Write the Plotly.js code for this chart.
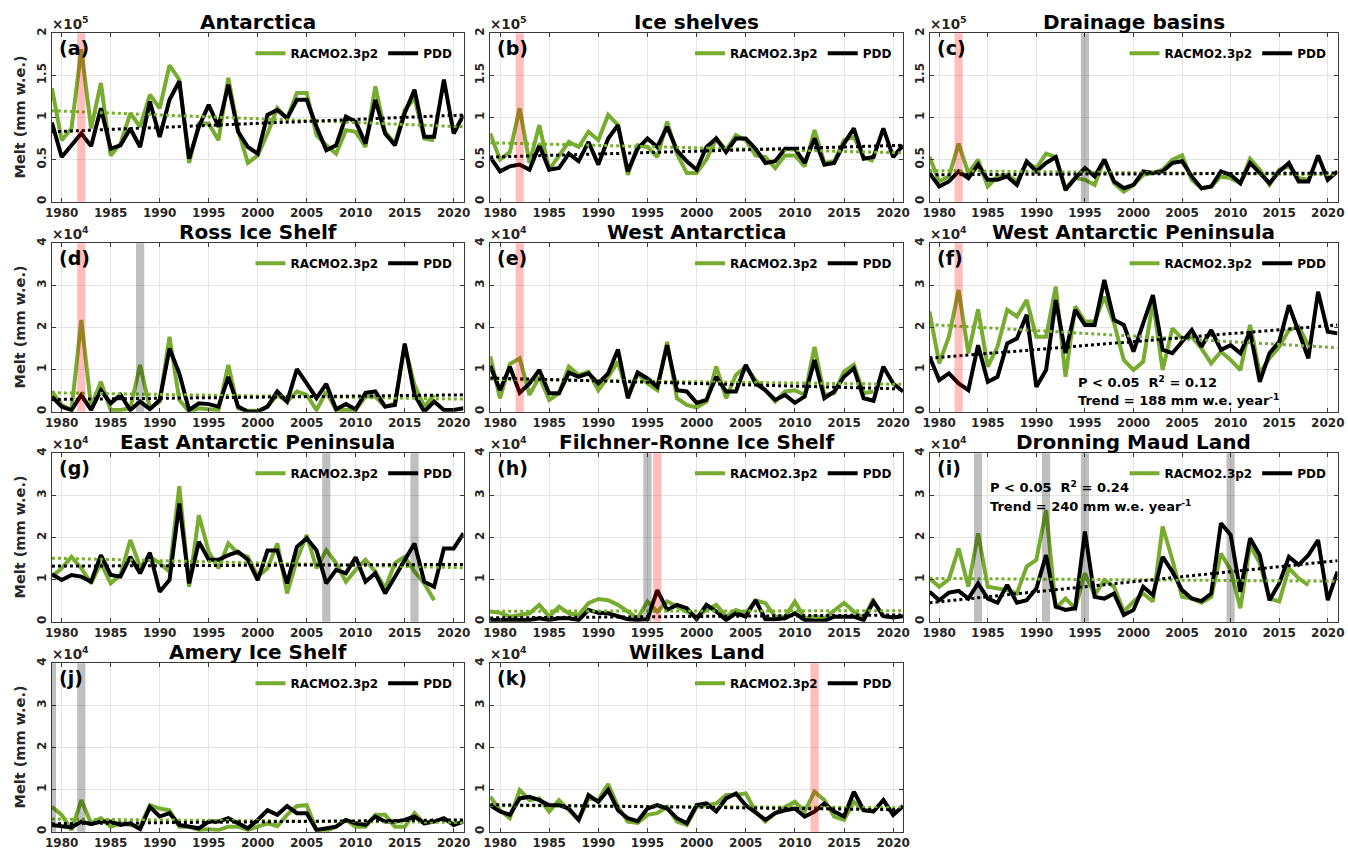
<!DOCTYPE html>
<html><head><meta charset="utf-8">
<script src="https://cdn.plot.ly/plotly-3.0.1.min.js"></script>
<style>html,body{margin:0;padding:0;background:#fff}#chart{width:1348px;height:851px}</style>
</head><body><div id="chart"></div>
<script>
// ---------- data (values in units of the panel's exponent: x10^5 for row 1, x10^4 otherwise) ----------
const yearsRACMO = [1979,1980,1981,1982,1983,1984,1985,1986,1987,1988,1989,1990,1991,1992,1993,1994,1995,1996,1997,1998,1999,2000,2001,2002,2003,2004,2005,2006,2007,2008,2009,2010,2011,2012,2013,2014,2015,2016,2017,2018];
const yearsPDD = [1979,1980,1981,1982,1983,1984,1985,1986,1987,1988,1989,1990,1991,1992,1993,1994,1995,1996,1997,1998,1999,2000,2001,2002,2003,2004,2005,2006,2007,2008,2009,2010,2011,2012,2013,2014,2015,2016,2017,2018,2019,2020,2021];
const trendYears = [1979, 2021];

const panelTitles = ["Antarctica","Ice shelves","Drainage basins","Ross Ice Shelf","West Antarctica","West Antarctic Peninsula","East Antarctic Peninsula","Filchner-Ronne Ice Shelf","Dronning Maud Land","Amery Ice Shelf","Wilkes Land"];
const panelLetters = ["(a)","(b)","(c)","(d)","(e)","(f)","(g)","(h)","(i)","(j)","(k)"];
const panelExponents = [5,5,5,4,4,4,4,4,4,4,4];
const panelYMax = [2,2,2,4,4,4,4,4,4,4,4];
const panelYStep = [0.5,0.5,0.5,1,1,1,1,1,1,1,1];
const seriesNames = ["RACMO2.3p2","PDD"];

const antarctica_racmo = [1.35,0.73,0.87,1.81,0.87,1.41,0.55,0.69,1.05,0.89,1.27,1.11,1.62,1.45,0.46,0.93,0.93,0.73,1.47,0.85,0.46,0.55,0.81,1.11,0.99,1.29,1.29,0.79,0.67,0.57,0.85,0.83,0.65,1.37,0.83,0.69,1.09,1.23,0.75,0.73];
const antarctica_pdd = [0.94,0.53,0.67,0.81,0.66,1.11,0.63,0.67,0.87,0.65,1.19,0.77,1.21,1.43,0.51,0.89,1.15,0.89,1.39,0.83,0.65,0.57,1.03,1.09,0.99,1.21,1.21,0.89,0.61,0.67,1.01,0.95,0.69,1.21,0.81,0.67,1.05,1.33,0.77,0.77,1.45,0.81,1.03];
const iceshelves_racmo = [0.81,0.50,0.59,1.11,0.46,0.91,0.38,0.55,0.71,0.65,0.83,0.73,1.03,0.91,0.32,0.67,0.65,0.53,0.95,0.57,0.34,0.34,0.50,0.75,0.61,0.79,0.73,0.55,0.53,0.40,0.55,0.55,0.42,0.85,0.46,0.48,0.73,0.77,0.53,0.48];
const iceshelves_pdd = [0.53,0.36,0.42,0.44,0.38,0.67,0.38,0.40,0.57,0.48,0.71,0.44,0.75,0.91,0.36,0.63,0.75,0.65,0.89,0.61,0.48,0.38,0.65,0.75,0.59,0.75,0.75,0.63,0.46,0.48,0.63,0.63,0.46,0.75,0.44,0.46,0.69,0.87,0.51,0.53,0.87,0.53,0.67];
const drainage_racmo = [0.53,0.24,0.30,0.69,0.34,0.50,0.18,0.30,0.32,0.24,0.46,0.40,0.57,0.53,0.16,0.28,0.26,0.20,0.50,0.22,0.12,0.20,0.32,0.34,0.38,0.50,0.55,0.26,0.16,0.18,0.30,0.28,0.22,0.51,0.38,0.20,0.38,0.42,0.28,0.26];
const drainage_pdd = [0.34,0.18,0.24,0.36,0.28,0.44,0.26,0.26,0.30,0.20,0.48,0.36,0.46,0.53,0.14,0.28,0.40,0.30,0.50,0.24,0.16,0.20,0.36,0.34,0.36,0.46,0.48,0.30,0.16,0.18,0.36,0.32,0.22,0.46,0.34,0.22,0.36,0.46,0.24,0.24,0.55,0.26,0.36];
const ross_racmo = [0.48,0.16,0.04,2.18,0.12,0.71,0.04,0.04,0.08,1.11,0.08,0.24,1.78,0.28,0.0,0.08,0.06,0.04,1.11,0.08,0.02,0.02,0.12,0.40,0.24,0.48,0.40,0.04,0.48,0.04,0.04,0.04,0.36,0.36,0.12,0.20,1.58,0.63,0.12,0.40];
const ross_pdd = [0.36,0.12,0.04,0.40,0.04,0.51,0.20,0.40,0.04,0.24,0.06,0.28,1.50,0.91,0.04,0.20,0.18,0.12,0.83,0.12,0.0,0.0,0.12,0.48,0.24,1.01,0.67,0.32,0.66,0.06,0.18,0.06,0.45,0.48,0.12,0.16,1.62,0.40,0.0,0.24,0.04,0.04,0.08];
const westant_racmo = [1.31,0.32,1.13,1.27,0.40,0.83,0.28,0.44,1.07,0.87,0.95,0.51,0.83,1.19,0.40,0.91,0.67,0.51,1.66,0.32,0.16,0.10,0.24,1.07,0.32,0.87,1.07,0.75,0.51,0.24,0.48,0.51,0.40,1.54,0.40,0.44,0.95,1.11,0.44,0.48];
const westant_pdd = [1.09,0.51,1.07,0.45,0.67,0.99,0.44,0.44,0.93,0.83,0.91,0.67,0.91,1.48,0.32,0.93,0.79,0.59,1.58,0.51,0.48,0.21,0.28,0.83,0.48,0.48,1.11,0.67,0.51,0.28,0.40,0.21,0.36,1.23,0.32,0.48,0.83,1.03,0.32,0.26,1.07,0.67,0.48];
const wap_racmo = [2.38,1.15,1.78,2.89,1.39,2.43,1.07,1.54,2.42,2.26,2.65,1.78,1.78,2.97,0.83,2.50,2.14,2.14,2.73,2.10,1.23,0.99,1.19,2.61,0.99,1.98,1.74,1.78,1.50,1.15,1.43,1.23,0.99,2.06,0.91,1.27,1.54,1.94,2.02,1.58];
const wap_pdd = [1.31,0.75,0.91,0.67,0.51,1.58,0.71,0.83,1.62,1.74,2.30,0.59,0.99,2.65,1.39,2.42,2.06,2.06,3.13,2.18,2.06,1.43,2.10,2.77,1.47,1.39,1.66,1.94,1.54,1.94,1.47,1.58,1.39,1.90,0.71,1.39,1.66,2.53,1.90,1.27,2.85,1.90,1.86];
const eap_racmo = [1.07,1.27,1.54,1.27,0.91,1.39,0.91,1.11,1.94,1.31,1.54,1.39,1.19,3.22,0.83,2.53,1.66,1.27,1.86,1.62,1.54,1.07,1.27,1.86,0.67,1.47,2.06,1.27,1.70,1.39,0.95,1.23,1.47,1.19,0.79,1.39,1.54,1.19,0.91,0.51];
const eap_pdd = [1.13,0.99,1.11,1.07,0.95,1.58,1.11,1.07,1.54,1.15,1.64,0.71,0.99,2.81,0.91,1.90,1.47,1.47,1.58,1.66,1.47,0.99,1.69,1.69,0.91,1.78,1.98,1.70,0.91,1.23,1.15,1.53,0.95,1.15,0.67,1.07,1.47,1.86,0.95,0.83,1.74,1.74,2.10];
const filchner_racmo = [0.24,0.21,0.12,0.16,0.20,0.40,0.12,0.36,0.20,0.16,0.44,0.54,0.51,0.40,0.24,0.08,0.48,0.24,0.48,0.36,0.24,0.12,0.28,0.40,0.12,0.28,0.20,0.51,0.44,0.12,0.12,0.48,0.08,0.12,0.08,0.28,0.45,0.24,0.08,0.55];
const filchner_pdd = [0.04,0.04,0.02,0.04,0.04,0.08,0.04,0.08,0.08,0.04,0.28,0.21,0.20,0.13,0.06,0.04,0.06,0.75,0.28,0.40,0.32,0.06,0.40,0.24,0.04,0.20,0.12,0.51,0.06,0.06,0.08,0.20,0.04,0.02,0.02,0.12,0.12,0.12,0.04,0.48,0.13,0.10,0.13];
const dml_racmo = [1.03,0.83,1.01,1.74,0.83,2.10,0.83,0.79,0.75,0.67,1.31,1.47,2.65,0.32,0.55,0.32,1.15,0.63,0.99,0.83,0.24,0.48,0.67,0.48,2.26,1.47,0.59,0.55,0.45,0.59,1.62,1.23,0.32,1.82,1.39,0.55,0.48,1.27,1.03,0.87];
const dml_pdd = [0.71,0.51,0.69,0.73,0.55,0.91,0.55,0.45,0.87,0.45,0.51,0.79,1.58,0.36,0.28,0.32,2.14,0.59,0.55,0.67,0.16,0.28,0.83,0.63,1.54,1.19,0.75,0.55,0.49,0.67,2.34,2.06,0.71,1.98,1.58,0.51,0.91,1.54,1.35,1.58,1.94,0.51,1.19];
const amery_racmo = [0.59,0.40,0.04,0.75,0.20,0.32,0.12,0.20,0.16,0.12,0.63,0.55,0.51,0.12,0.12,0.04,0.06,0.04,0.12,0.12,0.04,0.12,0.20,0.13,0.40,0.61,0.63,0.04,0.02,0.12,0.28,0.12,0.12,0.40,0.40,0.12,0.12,0.44,0.20,0.28];
const amery_pdd = [0.16,0.13,0.10,0.24,0.18,0.24,0.24,0.16,0.20,0.06,0.59,0.36,0.44,0.16,0.12,0.08,0.24,0.24,0.32,0.20,0.08,0.28,0.51,0.40,0.61,0.44,0.44,0.04,0.08,0.12,0.28,0.20,0.16,0.36,0.24,0.24,0.28,0.36,0.20,0.24,0.32,0.16,0.24];
const wilkes_racmo = [0.83,0.51,0.32,0.99,0.75,0.79,0.48,0.75,0.51,0.28,0.79,0.75,1.13,0.59,0.24,0.21,0.40,0.44,0.59,0.24,0.16,0.59,0.63,0.67,0.87,0.87,0.91,0.48,0.24,0.44,0.59,0.71,0.48,0.95,0.75,0.36,0.28,0.71,0.51,0.48];
const wilkes_pdd = [0.63,0.48,0.40,0.79,0.83,0.75,0.63,0.63,0.55,0.28,0.87,0.71,0.99,0.51,0.32,0.25,0.55,0.63,0.55,0.32,0.20,0.63,0.67,0.48,0.79,0.91,0.63,0.44,0.28,0.44,0.51,0.55,0.36,0.48,0.67,0.48,0.36,0.95,0.51,0.48,0.75,0.40,0.61];

// linear trend lines: [value at 1979, value at 2021]
const trend_racmo = [[1.08,0.89],[0.70,0.58],[0.37,0.32],[0.45,0.30],[0.77,0.65],[2.07,1.52],[1.51,1.28],[0.25,0.26],[1.03,0.96],[0.30,0.22],[0.62,0.57]];
const trend_pdd   = [[0.83,1.03],[0.53,0.67],[0.32,0.34],[0.29,0.40],[0.80,0.54],[1.27,2.06],[1.32,1.36],[0.09,0.16],[0.45,1.45],[0.19,0.28],[0.64,0.52]];

// highlighted years
const redYears  = [[1982],[1982],[1982],[1982],[1982],[1982],[],[1996],[],[],[2012]];
const grayYears = [[],[],[1995],[1988],[],[],[2007,2016],[1995],[1984,1991,1995,2010],[1979,1982],[]];

// significance notes
const statsNotes = {5: ["P < 0.05  R<sup>2</sup> = 0.12", "Trend = 188 mm w.e. year<sup>-1</sup>"],
                    8: ["P < 0.05  R<sup>2</sup> = 0.24", "Trend = 240 mm w.e. year<sup>-1</sup>"]};

const racmoSeries = [antarctica_racmo, iceshelves_racmo, drainage_racmo, ross_racmo, westant_racmo, wap_racmo, eap_racmo, filchner_racmo, dml_racmo, amery_racmo, wilkes_racmo];
const pddSeries = [antarctica_pdd, iceshelves_pdd, drainage_pdd, ross_pdd, westant_pdd, wap_pdd, eap_pdd, filchner_pdd, dml_pdd, amery_pdd, wilkes_pdd];

// ---------- layout ----------
const W = 1348, H = 851;
const FONT = "DejaVu Sans";
const GREEN = "#77AC30";
const colX = [[51.9, 463.5], [490.2, 903], [929.5, 1337.5]];
const rowY = [[33.3, 201.7], [243.3, 411.7], [453.3, 621.7], [663.3, 831.7]];

const traces = [];
const layout = {
  width: W, height: H, margin: {l:0, r:0, t:0, b:0},
  paper_bgcolor: "#fff", plot_bgcolor: "#fff",
  font: {family: FONT, color: "#262626"},
  showlegend: true, annotations: [], shapes: []
};

for (let i = 0; i < 11; i++) {
  const row = Math.floor(i/3), col = i % 3;
  const sfx = i === 0 ? "" : String(i+1);
  const [x0, x1] = colX[col], [y0, y1] = rowY[row];
  const xa = "x"+sfx, ya = "y"+sfx, lg = "legend"+sfx;

  layout["xaxis"+sfx] = {
    domain: [x0/W, x1/W], anchor: ya, range: [1979, 2021], tick0: 1980, dtick: 5,
    showline: true, mirror: "ticks", linecolor: "#3a3a3a", linewidth: 1,
    ticks: "inside", ticklen: 4, tickcolor: "#3a3a3a",
    showgrid: true, gridcolor: "#e4e4e4", gridwidth: 1, zeroline: false,
    tickfont: {family: FONT, size: 12, weight: "bold", color: "#262626"}, fixedrange: true
  };
  layout["yaxis"+sfx] = {
    domain: [1 - y1/H, 1 - y0/H], anchor: xa, range: [0, panelYMax[i]], tick0: 0, dtick: panelYStep[i],
    showline: true, mirror: "ticks", linecolor: "#3a3a3a", linewidth: 1,
    ticks: "inside", ticklen: 4, tickcolor: "#3a3a3a", tickangle: -90,
    showgrid: true, gridcolor: "#e4e4e4", gridwidth: 1, zeroline: false,
    tickfont: {family: FONT, size: 12, weight: "bold", color: "#262626"}, fixedrange: true
  };
  layout[lg] = {
    orientation: "h", x: (x1 - 6)/W, xanchor: "right", y: 1 - (y0 + 20)/H, yanchor: "middle",
    bgcolor: "rgba(0,0,0,0)", borderwidth: 0, font: {family: FONT, size: 12, weight: "bold", color: "#000"},
    itemwidth: 30, traceorder: "normal"
  };

  traces.push({x: yearsRACMO, y: racmoSeries[i], xaxis: xa, yaxis: ya, mode: "lines", name: seriesNames[0],
    line: {color: GREEN, width: 4}, legend: lg, showlegend: true, hoverinfo: "skip"});
  traces.push({x: yearsPDD, y: pddSeries[i], xaxis: xa, yaxis: ya, mode: "lines", name: seriesNames[1],
    line: {color: "#000", width: 4}, legend: lg, showlegend: true, hoverinfo: "skip"});
  traces.push({x: trendYears, y: trend_racmo[i], xaxis: xa, yaxis: ya, mode: "lines",
    line: {color: GREEN, width: 3, dash: "dot"}, showlegend: false, hoverinfo: "skip"});
  traces.push({x: trendYears, y: trend_pdd[i], xaxis: xa, yaxis: ya, mode: "lines",
    line: {color: "#000", width: 3, dash: "dot"}, showlegend: false, hoverinfo: "skip"});

  redYears[i].forEach(yr => layout.shapes.push({type: "rect", xref: xa, yref: ya+" domain", x0: yr-0.42, x1: yr+0.42, y0: 0, y1: 1,
    fillcolor: "rgba(255,0,0,0.26)", line: {width: 0}, layer: "above"}));
  grayYears[i].forEach(yr => layout.shapes.push({type: "rect", xref: xa, yref: ya+" domain", x0: yr-0.42, x1: yr+0.42, y0: 0, y1: 1,
    fillcolor: "rgba(0,0,0,0.25)", line: {width: 0}, layer: "above"}));

  // title
  layout.annotations.push({text: panelTitles[i], xref: "paper", yref: "paper", x: ((x0+x1)/2)/W, y: 1 - (y0 - 11)/H,
    xanchor: "center", yanchor: "middle", showarrow: false, font: {family: FONT, size: 20, weight: "bold", color: "#000"}});
  // panel letter
  layout.annotations.push({text: panelLetters[i], xref: "paper", yref: "paper", x: (x0 + 5)/W, y: 1 - (y0 + 15)/H,
    xanchor: "left", yanchor: "middle", showarrow: false, font: {family: FONT, size: 19, weight: "bold", color: "#000"}});
  // exponent
  layout.annotations.push({text: "\u00d710<sup>" + panelExponents[i] + "</sup>", xref: "paper", yref: "paper", x: (x0 - 2)/W, y: 1 - (y0 + 1)/H,
    xanchor: "left", yanchor: "bottom", showarrow: false, font: {family: FONT, size: 13.5, weight: "bold", color: "#262626"}});
  // y title
  if (col === 0) {
    layout.annotations.push({text: "Melt (mm w.e.)", xref: "paper", yref: "paper", x: 19/W, y: 1 - ((y0+y1)/2)/H,
      xanchor: "center", yanchor: "middle", textangle: -90, showarrow: false, font: {family: FONT, size: 14.5, weight: "bold", color: "#262626"}});
  }
  if (statsNotes[i]) {
    const lx = i === 5 ? 0.36 : 0.143;
    const ly = i === 5 ? [0.176, 0.07] : [0.80, 0.69];
    statsNotes[i].forEach((t, k) => layout.annotations.push({text: t, xref: xa+" domain", yref: ya+" domain", x: lx, y: ly[k],
      xanchor: "left", yanchor: "middle", showarrow: false, font: {family: FONT, size: 13, weight: "bold", color: "#000"}}));
  }
}

Plotly.newPlot("chart", traces, layout, {displayModeBar: false, staticPlot: true});
</script>
</body></html>
